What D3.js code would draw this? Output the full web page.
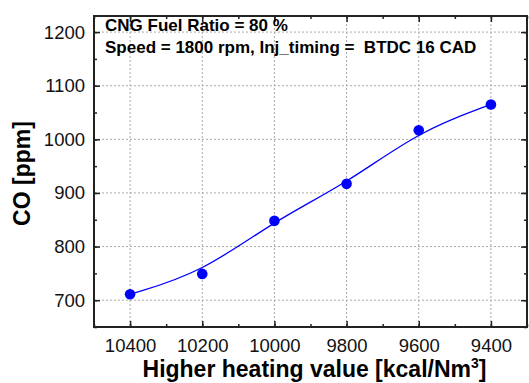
<!DOCTYPE html>
<html>
<head>
<meta charset="utf-8">
<script src="https://cdn.jsdelivr.net/npm/d3@7"></script>
<style>
  body { margin: 0; background: #fff; }
  svg { font-family: Arial, "Liberation Sans", sans-serif; }
</style>
</head>
<body>
<svg id="chart" width="529" height="383"></svg>
<script>
const heatingValues = [10400, 10200, 10000, 9800, 9600, 9400];
const coValues = [711, 749, 848, 917, 1017, 1065];
const xTicks = [10400, 10200, 10000, 9800, 9600, 9400];
const yTicks = [700, 800, 900, 1000, 1100, 1200];
const notes = ['CNG Fuel Ratio = 80 %', 'Speed = 1800 rpm, Inj_timing =  BTDC 16 CAD'];

const svg = d3.select('#chart');
const margin = { top: 16, right: 2, bottom: 56, left: 94 };
const width = 529 - margin.left - margin.right;
const height = 383 - margin.top - margin.bottom;

const g = svg.append('g').attr('transform', `translate(${margin.left},${margin.top})`);

const x = d3.scaleLinear().domain([10500, 9300]).range([0, width]);
const y = d3.scaleLinear().domain([650, 1230]).range([height, 0]);

// grid
g.append('g').selectAll('line').data(xTicks).enter().append('line')
  .attr('x1', d => x(d)).attr('x2', d => x(d))
  .attr('y1', 0).attr('y2', height)
  .attr('stroke', '#aaa').attr('stroke-width', 1).attr('stroke-dasharray', '2,2');
g.append('g').selectAll('line').data(yTicks).enter().append('line')
  .attr('y1', d => y(d)).attr('y2', d => y(d))
  .attr('x1', 0).attr('x2', width)
  .attr('stroke', '#aaa').attr('stroke-width', 1).attr('stroke-dasharray', '2,2');

// axes, ticks inward
const xMinor = d3.range(10500, 9299, -100);
const yMinor = d3.range(650, 1231, 50);

function styleAxis(sel) {
  sel.select('.domain').remove();
  sel.selectAll('line').attr('stroke', '#222').attr('stroke-width', 1.5);
  sel.selectAll('text').attr('fill', '#111').style('font-size', '18.5px');
}

g.append('g').attr('transform', `translate(0,${height})`)
  .call(d3.axisBottom(x).tickValues(xMinor).tickSize(-3).tickFormat(''))
  .call(styleAxis);
g.append('g').attr('transform', `translate(0,${height})`)
  .call(d3.axisBottom(x).tickValues(xTicks).tickSize(-6).tickPadding(12).tickFormat(d3.format('d')))
  .call(styleAxis);
g.append('g')
  .call(d3.axisTop(x).tickValues(xMinor).tickSize(-3).tickFormat(''))
  .call(styleAxis);
g.append('g')
  .call(d3.axisTop(x).tickValues(xTicks).tickSize(-6).tickFormat(''))
  .call(styleAxis);

g.append('g')
  .call(d3.axisLeft(y).tickValues(yMinor).tickSize(-3).tickFormat(''))
  .call(styleAxis);
g.append('g')
  .call(d3.axisLeft(y).tickValues(yTicks).tickSize(-6).tickPadding(9).tickFormat(d3.format('d')))
  .call(styleAxis);
g.append('g').attr('transform', `translate(${width},0)`)
  .call(d3.axisRight(y).tickValues(yMinor).tickSize(-3).tickFormat(''))
  .call(styleAxis);
g.append('g').attr('transform', `translate(${width},0)`)
  .call(d3.axisRight(y).tickValues(yTicks).tickSize(-6).tickFormat(''))
  .call(styleAxis);

// frame
g.append('rect').attr('width', width).attr('height', height)
  .attr('fill', 'none').attr('stroke', '#222').attr('stroke-width', 2);

// data
const pts = heatingValues.map((h, i) => ({ h, co: coValues[i] }));
const line = d3.line().x(d => x(d.h)).y(d => y(d.co)).curve(d3.curveBundle.beta(0.92));
g.append('path').datum(pts).attr('d', line)
  .attr('fill', 'none').attr('stroke', '#0000ff').attr('stroke-width', 1.3);
g.selectAll('.dot').data(pts).enter().append('circle')
  .attr('class', 'dot')
  .attr('cx', d => x(d.h)).attr('cy', d => y(d.co)).attr('r', 5.3)
  .attr('fill', '#0000ff');

// annotation
g.selectAll('.note').data(notes).enter().append('text')
  .attr('class', 'note')
  .attr('x', 11).attr('y', (d, i) => 15 + i * 22)
  .style('font-size', '17px').style('font-weight', 'bold')
  .style('white-space', 'pre')
  .text(d => d);

// labels
svg.append('text')
  .attr('transform', `translate(30,${margin.top + height / 2 + 2}) rotate(-90)`)
  .attr('text-anchor', 'middle')
  .style('font-size', '23px').style('font-weight', 'bold')
  .text('CO [ppm]');

const xl = svg.append('text')
  .attr('x', margin.left + width / 2 + 4).attr('y', 377)
  .attr('text-anchor', 'middle')
  .style('font-size', '23px').style('font-weight', 'bold');
xl.append('tspan').text('Higher heating value [kcal/Nm');
xl.append('tspan').attr('dy', -9).style('font-size', '14px').text('3');
xl.append('tspan').attr('dy', 9).text(']');
</script>
</body>
</html>
